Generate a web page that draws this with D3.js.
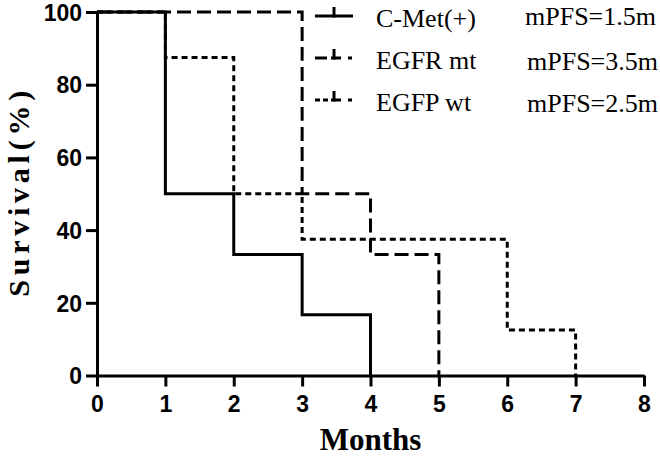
<!DOCTYPE html>
<html><head><meta charset="utf-8">
<script src="https://cdn.jsdelivr.net/npm/d3@7"></script>
<style>body{margin:0;background:#fff}svg{display:block}</style>
</head><body>
<svg id="c" width="660" height="456"></svg>
<script>
const seriesNames = ["C-Met(+)", "EGFR mt", "EGFP wt"];
const mpfsLabels = ["mPFS=1.5m", "mPFS=3.5m", "mPFS=2.5m"];
const cmetMonths = [0, 1, 2, 3, 4];
const cmetSurv = [100, 50, 33.3, 16.7, 0];
const egfrMonths = [0, 3, 4, 5];
const egfrSurv = [100, 50, 33.3, 0];
const egfpMonths = [0, 1, 2, 3, 6, 7];
const egfpSurv = [100, 87.5, 50, 37.5, 12.5, 0];
const xTicks = [0, 1, 2, 3, 4, 5, 6, 7, 8];
const yTicks = [0, 20, 40, 60, 80, 100];

const svg = d3.select("#c");
const x = d3.scaleLinear().domain([0, 8]).range([97, 644]);
const y = d3.scaleLinear().domain([0, 100]).range([375.5, 12]);

const dashes = [null, "14,6", "6,4"];
const data = [
  cmetMonths.map((m, i) => [m, cmetSurv[i]]),
  egfrMonths.map((m, i) => [m, egfrSurv[i]]),
  egfpMonths.map((m, i) => [m, egfpSurv[i]])
];

const line = d3.line().x(d => x(d[0])).y(d => y(d[1])).curve(d3.curveStepAfter);
[2, 1, 0].forEach(i => {
  svg.append("path").attr("d", line(data[i])).attr("fill", "none")
    .attr("stroke", "#000").attr("stroke-width", 3)
    .attr("stroke-dasharray", dashes[i]);
});

const ax = svg.append("g").attr("transform", `translate(0,${y(0)})`)
  .call(d3.axisBottom(x).tickValues(xTicks).tickSize(11).tickPadding(9).tickSizeOuter(0));
const ay = svg.append("g").attr("transform", `translate(${x(0)},0)`)
  .call(d3.axisLeft(y).tickValues(yTicks).tickSize(11).tickPadding(4).tickSizeOuter(0));
[ax, ay].forEach(g => {
  g.select(".domain").attr("stroke", "#000").attr("stroke-width", 3);
  g.selectAll(".tick line").attr("stroke", "#000").attr("stroke-width", 3);
  g.selectAll(".tick text").attr("fill", "#000")
    .style("font-family", "'Liberation Sans', Arial, sans-serif")
    .style("font-weight", "bold").style("font-size", "23px");
});
ay.selectAll(".tick text").attr("dy", "0.36em");

svg.append("text").attr("x", x(4)).attr("y", 450).attr("text-anchor", "middle")
  .style("font-family", "'Liberation Serif', 'Times New Roman', serif")
  .style("font-weight", "bold").style("font-size", "31px").text("Months");
svg.append("text").attr("transform", `translate(29,${(y(0)+y(100))/2}) rotate(-90)`)
  .attr("text-anchor", "middle").attr("textLength", 206).attr("lengthAdjust", "spacing")
  .style("font-family", "'Liberation Serif', 'Times New Roman', serif")
  .style("font-weight", "bold").style("font-size", "30px").text("Survival(%)");

const legY = d3.scaleLinear().domain([0, 2]).range([16, 100]);
seriesNames.forEach((n, i) => {
  const ly = legY(i);
  const g = svg.append("g");
  g.append("line").attr("x1", 315).attr("x2", 353).attr("y1", ly).attr("y2", ly)
    .attr("stroke", "#000").attr("stroke-width", 3)
    .attr("stroke-dasharray", i === 0 ? null : (i === 1 ? "12,4,10,7,4" : "5,3,5,3,10,7,4"));
  g.append("line").attr("x1", 334).attr("x2", 334).attr("y1", ly - 9).attr("y2", ly + 1.5)
    .attr("stroke", "#000").attr("stroke-width", 3);
  g.append("text").attr("x", 376).attr("y", ly + 11)
    .style("font-family", "'Liberation Serif', 'Times New Roman', serif")
    .style("font-size", "26px").text(n);
  g.append("text").attr("x", i === 0 ? 525 : 527).attr("y", ly + (i === 0 ? 9 : 12))
    .style("font-family", "'Liberation Serif', 'Times New Roman', serif")
    .style("font-size", "26px").text(mpfsLabels[i]);
});
</script>
</body></html>
